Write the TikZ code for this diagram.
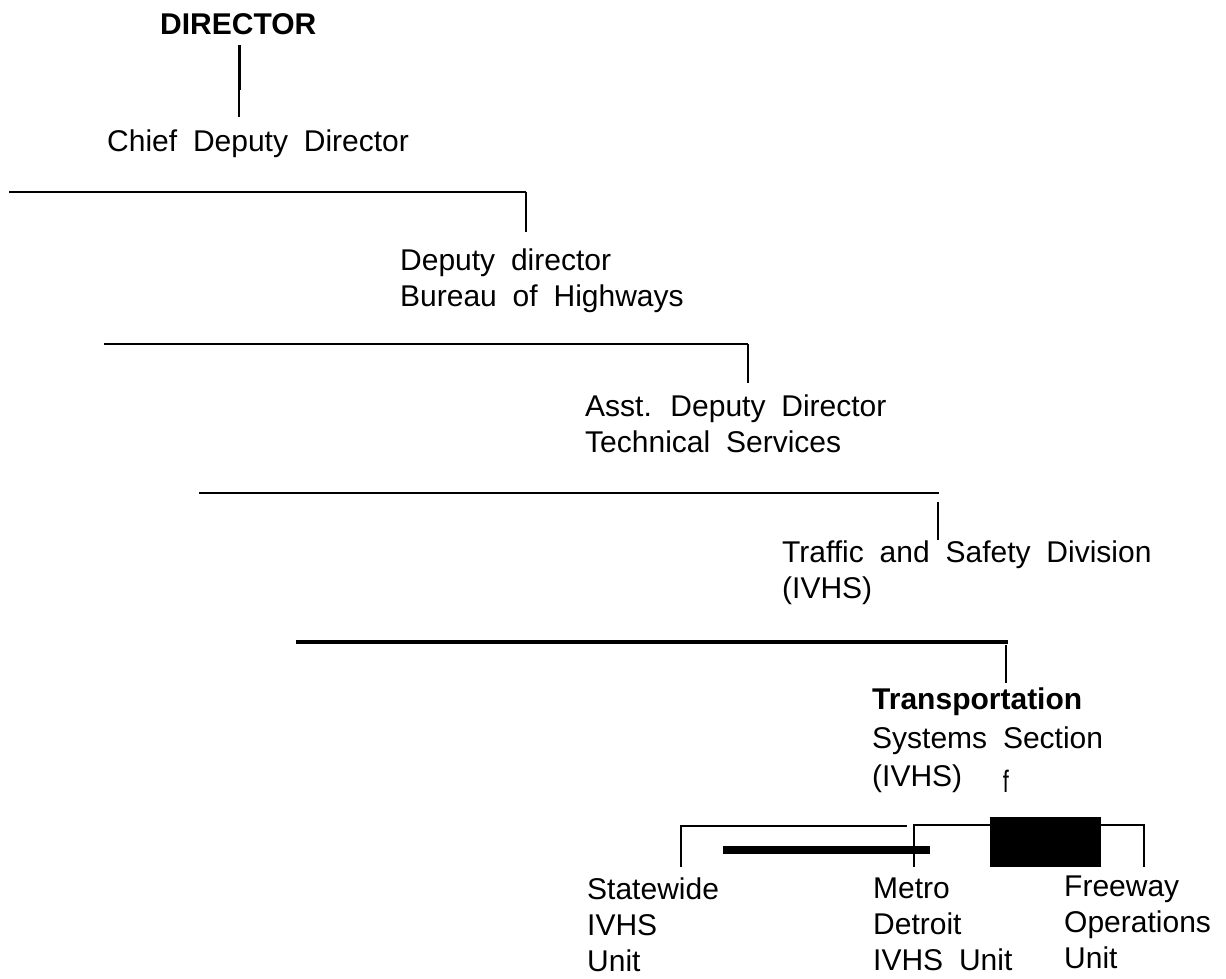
\documentclass[tikz,border=0pt]{standalone}
\usepackage{fontspec}
\setmainfont{Liberation Sans}[WordSpace=1.9]
\usepackage{tikz}

\tikzset{
  label/.style={anchor=north west, inner sep=0pt, align=left,
    font=\fontsize{30}{36}\selectfont},
  bus/.style={line width=2.6pt},
  drop/.style={line width=1.8pt},
  bracket/.style={line width=1.5pt}
}

\begin{document}
\begin{tikzpicture}[x=1pt, y=-1pt]
  \useasboundingbox (0, 0) rectangle (1226, 978);
  % Draw top of chart
  \node [anchor=base west, inner sep=0pt, font=\fontsize{30}{34}\selectfont\bfseries]
    (director) at (160, 34) {DIRECTOR};
  \draw [line width=3pt] (239, 45) -- (239, 90);
  \draw [line width=1.6pt] (239, 90) -- (239, 117);
  \node [anchor=base west, inner sep=0pt, font=\fontsize{30}{36}\selectfont]
    (chief) at (107, 151) {Chief Deputy Director};
  % Draw bus lines (with drops to the next level)
  \draw [bus] (9, 192) -- (526, 192);
  \draw [drop] (526, 192) -- (526, 232);
  \draw [bus] (104, 344) -- (748, 344);
  \draw [drop] (748, 344) -- (748, 383);
  \draw [bus] (199, 493) -- (939, 493);
  \draw [line width=1.3pt] (938, 502) -- (938, 540);
  \draw [line width=3.2pt] (296, 642) -- (1008, 642);
  \draw [line width=1.3pt] (1006, 645) -- (1006, 683);
  % Add level labels
  \node [label] (deputy) at (400, 249) {Deputy director\\Bureau of Highways};
  \node [label] (asst) at (585, 395) {Asst. Deputy Director\\Technical Services};
  \node [label] (traffic) at (782, 541) {Traffic and Safety Division\\(IVHS)};
  \node [label] (tss) at (872, 688)
    {\textbf{Transportation}\\[2.5pt]Systems Section\\[2.5pt](IVHS)};
  \node [anchor=base, inner sep=0pt, font=\fontsize{31}{34}\selectfont\addfontfeatures{FakeStretch=0.7}]
    (mark) at (1006, 792) {f};
  % Draw unit bracket
  \draw [bracket] (681, 867) -- (681, 826) -- (907, 826);
  \draw [bracket] (914, 867) -- (914, 825) -- (1144, 825) -- (1144, 867);
  \draw [line width=8pt] (723, 850) -- (930, 850);
  \fill (990, 817) rectangle (1101, 867);
  % Add unit labels
  \node [label] (statewide) at (587, 878) {Statewide\\IVHS\\Unit};
  \node [label] (metro) at (873, 878) {Metro\\Detroit\\IVHS Unit};
  \node [label] (freeway) at (1064, 876) {Freeway\\Operations\\Unit};
\end{tikzpicture}
\end{document}
